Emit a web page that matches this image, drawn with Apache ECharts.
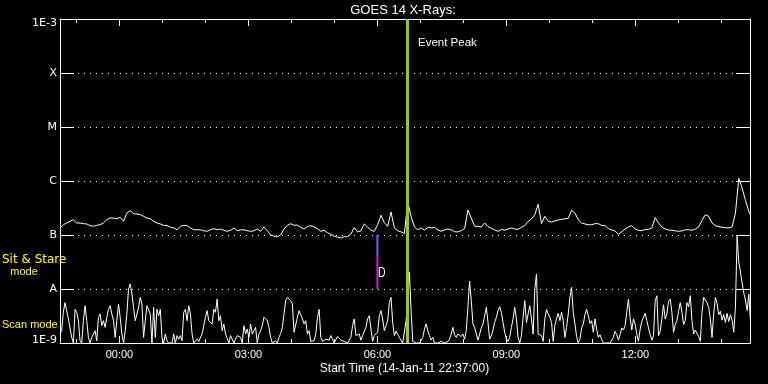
<!DOCTYPE html>
<html><head><meta charset="utf-8">
<script src="https://cdn.jsdelivr.net/npm/echarts@6/dist/echarts.min.js"></script>
<style>html,body{margin:0;padding:0;background:#000;}#c{width:768px;height:384px;}</style>
</head><body><div id="c"></div>
<script>
// time axis: minutes relative to 2011-01-15 00:00 ; start = 14-Jan-11 22:37:00
const startMin = -83;
const endMin = 880;
const longStepMin = 280 / 60;   // long channel sample spacing
const shortStepMin = 140 / 60;  // short channel sample spacing

// GOES 14 long channel (1-8 A), units of 1e-7 W/m^2
const longFlux = [
 1.35,1.55,1.67,1.79,1.92,1.67,1.67,1.62,1.60,1.49,
 1.45,1.51,1.55,1.67,1.92,2.06,2.06,2.0,2.13,1.8,
 2.55,2.82,2.48,2.45,2.38,2.22,2.06,2.0,1.79,1.67,
 1.60,1.51,1.49,1.39,1.35,1.25,1.45,1.51,1.49,1.35,
 1.25,1.25,1.25,1.20,1.17,1.25,1.31,1.25,1.29,1.22,
 1.17,1.22,1.35,1.20,1.24,1.25,1.20,1.17,1.20,1.29,
 1.17,1.41,1.20,1.01,0.95,0.92,1.01,1.29,1.51,1.62,
 1.51,1.53,1.39,1.29,1.43,1.49,1.41,1.31,1.17,1.22,
 1.10,1.03,0.95,0.91,0.88,0.93,0.93,1.04,1.37,1.14,
 1.20,1.60,1.41,1.22,1.17,1.55,2.32,1.67,1.45,2.67,
 1.35,1.20,1.14,1.06,4.1,2.2,1.41,1.25,1.35,1.22,
 1.39,1.35,1.39,1.24,1.17,1.24,1.29,1.24,1.15,1.14,
 1.20,1.31,2.9,2.06,1.45,1.45,1.41,1.67,1.43,1.33,
 1.24,1.17,1.27,1.22,1.29,1.35,1.29,1.27,1.39,1.49,
 1.79,1.98,2.38,3.7,1.62,2.22,1.79,1.74,1.82,1.90,
 1.95,2.0,2.03,2.87,2.55,1.92,1.67,1.60,1.55,1.55,
 1.62,1.62,1.51,1.49,1.31,1.24,1.19,1.03,1.14,1.29,
 1.41,1.49,1.29,1.22,1.20,1.27,1.27,1.35,2.1,1.67,
 1.41,1.29,1.24,1.22,1.19,1.17,1.19,1.25,1.25,1.22,
 1.29,1.41,1.87,2.38,2.22,1.67,1.49,1.43,1.39,1.37,
 1.35,1.41,2.55,11.2,7.4,4.39,2.74,2.0
];

// GOES 14 short channel (0.5-4 A), units of 1e-9 W/m^2
const shortFlux = [
 1.47,1.69,3.7,5.6,3.97,2.8,2.59,1.27,1.0,4.2,
 3.7,2.59,1.1,1.0,2.59,4.9,2.59,1.27,1.0,1.27,
 1.47,1.69,1.1,2.99,3.45,2.1,2.59,1.95,2.99,4.2,
 4.9,3.45,2.59,1.27,2.59,5.28,2.99,1.47,1.0,1.69,
 3.45,10.0,12.4,8.08,4.58,2.59,2.8,4.58,7.0,5.28,
 1.27,2.59,4.9,4.58,3.45,1.0,4.58,1.27,4.2,3.2,
 4.2,1.27,1.0,1.47,1.1,1.0,1.0,1.0,1.47,1.0,
 1.37,1.18,1.37,1.1,3.7,4.2,2.59,4.9,3.45,1.47,
 1.0,1.07,1.18,1.07,1.0,1.47,1.58,2.99,3.97,2.59,
 2.8,2.25,4.2,3.7,6.5,2.59,3.2,1.69,2.25,1.47,
 1.58,1.0,1.37,1.47,1.0,1.18,1.37,1.47,1.27,1.0,
 2.1,1.47,1.8,1.27,2.25,1.47,1.37,1.95,1.0,1.47,
 1.69,2.1,2.99,3.2,2.59,1.95,1.27,1.0,1.07,1.1,
 1.0,1.27,1.5,1.95,3.45,6.08,7.0,7.5,6.08,5.28,
 1.58,1.69,2.99,3.97,3.7,2.8,2.25,2.59,1.47,1.69,
 1.07,1.13,1.1,1.47,2.99,4.2,1.27,1.07,1.13,1.18,
 1.24,1.13,1.37,1.18,1.0,1.07,1.32,1.27,1.13,1.05,
 1.07,1.13,1.0,1.07,1.27,2.1,2.8,1.37,1.37,1.47,
 1.13,1.37,1.37,1.95,2.8,3.2,1.8,1.07,1.37,1.27,
 1.58,3.2,3.97,2.8,1.69,2.1,2.59,5.6,7.0,2.4,
 1.37,1.65,1.65,1.27,1.13,1.0,1.0,2.59,6.08,20.4,
 3.97,1.07,1.0,1.0,1.0,1.0,1.07,1.27,1.8,2.25,
 1.69,1.37,1.13,1.27,1.0,1.0,1.0,1.0,1.07,1.0,
 1.0,1.07,1.07,1.18,1.47,1.95,1.42,1.27,1.47,1.58,
 1.32,1.47,1.18,1.69,4.58,14,6.08,2.25,1.95,1.8,
 1.13,1.47,1.9,2.25,3.2,4.58,2.4,1.18,1.37,1.74,
 2.4,2.99,3.97,4.7,3.7,2.4,1.58,1.18,1.07,1.27,
 1.95,2.8,4.58,2.8,1.27,1.0,1.37,2.99,6.08,2.4,
 3.45,4.9,2.8,1.47,10,19,1.47,1.47,1.37,1.07,
 2.8,4.2,3.45,2.99,2.4,1.07,2.1,2.8,3.55,2.59,
 3.7,2.59,1.27,1.95,3.45,7.0,10.7,3.7,2.25,1.32,
 1.0,1.18,1.9,2.25,3.35,4.2,3.2,2.3,2.59,1.58,
 2.8,1.8,1.27,1.42,1.18,1.0,1.0,1.0,1.0,1.0,
 1.07,1.27,1.65,1.42,1.13,1.42,1.9,1.74,2.1,3.7,
 6.5,2.99,1.74,2.8,2.25,1.47,1.07,1.8,2.5,2.4,
 3.55,2.59,1.9,1.42,1.13,1.37,6.08,7.5,1.37,1.65,
 2.8,5.1,2.8,3.45,5.9,6.5,3.7,1.58,2.2,2.59,
 3.85,5.6,3.7,2.2,2.59,5.6,4.7,7.5,2.59,1.47,
 1.74,1.74,1.32,1.07,3.7,7.0,7.5,5.6,4.58,2.8,
 1.27,3.45,7.0,5.4,3.35,3.85,2.65,3.35,2.4,3.55,
 2.5,3.35,2.65,1.58,4.58,95,31.6,20.6,12.9,8.4,
 6.25,4,8,2.5
];

const yTickNames = { '-3': '1E-3', '-4': 'X', '-5': 'M', '-6': 'C', '-7': 'B', '-8': 'A', '-9': '1E-9' };
const hourTicks = [-60,0,60,120,180,240,300,360,420,480,540,600,660,720,780,840];
const labelTicks = [0,180,360,540,720];
const eventPeakMin = 402;             // 06:42
const sitStareMin = 360;              // 06:00
const sitStareBlue = [1e-7, 4.1e-8];
const sitStareMagenta = [4.1e-8, 1e-8];

const longData = longFlux.map((v, k) => [startMin + k * longStepMin, v * 1e-7]);
const shortData = shortFlux.map((v, j) => [startMin + j * shortStepMin, v * 1e-9]);

function fmtTime(m) {
  const h = Math.floor(m / 60), mm = Math.round(m - h * 60);
  return String(h).padStart(2, '0') + ':' + String(mm).padStart(2, '0');
}
function fmtY(v) {
  const e = Math.round(Math.log10(v));
  const name = yTickNames[String(e)] || '';
  if (e === -3) return '{top|' + name + '}';
  if (e === -9) return '{bot|' + name + '}';
  return name;
}

const W = '#ffffff';
const baseX = {
  type: 'value', min: startMin, max: endMin, gridIndex: 0,
  splitLine: { show: false },
  axisLine: { show: true, onZero: false, lineStyle: { color: W, width: 1 } },
  axisLabel: { show: false }
};
const baseY = {
  type: 'log', logBase: 10, min: 1e-9, max: 1e-3,
  axisLine: { show: true, onZero: false, lineStyle: { color: W, width: 1 } },
  axisTick: { show: true, inside: true, length: 14, lineStyle: { color: W, width: 1 } },
  minorTick: { show: false }, minorSplitLine: { show: false }
};

const chart = echarts.init(document.getElementById('c'), null, { renderer: 'canvas' });
chart.setOption({
  backgroundColor: '#000000',
  animation: false,
  grid: { left: 60, right: 18, top: 19, bottom: 41, containLabel: false },
  xAxis: [
    Object.assign({}, baseX, {
      position: 'bottom',
      axisTick: { show: true, inside: true, length: 4, customValues: hourTicks, lineStyle: { color: W } },
      axisLabel: { show: true, customValues: labelTicks, formatter: fmtTime, color: W,
        fontFamily: 'Liberation Sans', fontSize: 11, margin: 6 }
    }),
    Object.assign({}, baseX, {
      position: 'bottom', axisLine: { show: false, onZero: false },
      axisTick: { show: true, inside: true, length: 7, customValues: labelTicks, lineStyle: { color: W } }
    }),
    Object.assign({}, baseX, {
      position: 'top',
      axisTick: { show: true, inside: true, length: 4, customValues: hourTicks, lineStyle: { color: W } }
    }),
    Object.assign({}, baseX, {
      position: 'top', axisLine: { show: false, onZero: false },
      axisTick: { show: true, inside: true, length: 7, customValues: labelTicks, lineStyle: { color: W } }
    })
  ],
  yAxis: [
    Object.assign({}, baseY, {
      position: 'left',
      splitLine: { show: true, lineStyle: { color: W, width: 1, type: [1, 5] } },
      axisLabel: { show: true, color: W, fontFamily: 'DejaVu Sans', fontSize: 11, margin: 3,
        formatter: fmtY,
        rich: {
          top: { color: W, fontFamily: 'DejaVu Sans', fontSize: 11, padding: [9, 0, 0, 0] },
          bot: { color: W, fontFamily: 'DejaVu Sans', fontSize: 11, padding: [0, 0, 5, 0] }
        } }
    }),
    Object.assign({}, baseY, {
      position: 'right', splitLine: { show: false }, axisLabel: { show: false }
    })
  ],
  series: [
    { type: 'line', name: 'long', data: longData, xAxisIndex: 0, yAxisIndex: 0,
      symbol: 'none', clip: true, silent: true,
      lineStyle: { color: W, width: 1 } },
    { type: 'line', name: 'short', data: shortData, xAxisIndex: 0, yAxisIndex: 0,
      symbol: 'none', clip: true, silent: true,
      lineStyle: { color: W, width: 1 },
      markLine: { silent: true, symbol: ['none', 'none'], label: { show: false },
        lineStyle: { color: '#9acd00', width: 3, type: 'solid' },
        data: [{ xAxis: eventPeakMin }] } },
    { type: 'line', data: [[sitStareMin, sitStareBlue[0]], [sitStareMin, sitStareBlue[1]]],
      symbol: 'none', silent: true, lineStyle: { color: '#6464ff', width: 2 } },
    { type: 'line', data: [[sitStareMin, sitStareMagenta[0]], [sitStareMin, sitStareMagenta[1]]],
      symbol: 'none', silent: true, lineStyle: { color: '#d020d0', width: 2 } }
  ],
  graphic: [
    { type: 'text', x: 403, y: 10.5, silent: true,
      style: { text: 'GOES 14 X-Rays:', fill: W, font: '13px "Liberation Sans"', textAlign: 'center', textVerticalAlign: 'middle' } },
    { type: 'text', x: 418, y: 43, silent: true,
      style: { text: 'Event Peak', fill: W, font: '11.5px "Liberation Sans"', textAlign: 'left', textVerticalAlign: 'middle' } },
    { type: 'text', x: 2, y: 259.5, silent: true,
      style: { text: 'Sit & Stare', fill: '#ffff00', font: '12px "DejaVu Sans"', textAlign: 'left', textVerticalAlign: 'middle' } },
    { type: 'text', x: 24, y: 271.5, silent: true,
      style: { text: 'mode', fill: '#ffff00', font: '11px "Liberation Sans"', textAlign: 'center', textVerticalAlign: 'middle' } },
    { type: 'text', x: 2, y: 325, silent: true,
      style: { text: 'Scan mode', fill: '#ffff00', font: '11px "Liberation Sans"', textAlign: 'left', textVerticalAlign: 'middle' } },
    { type: 'text', x: 404.5, y: 368.5, silent: true,
      style: { text: 'Start Time (14-Jan-11 22:37:00)', fill: W, font: '12px "Liberation Sans"', textAlign: 'center', textVerticalAlign: 'middle' } },
    { type: 'text', x: 378, y: 272.5, scaleX: 0.7, silent: true,
      style: { text: 'D', fill: W, font: '15px "Liberation Sans"', textAlign: 'left', textVerticalAlign: 'middle' } }
  ]
});
</script>
</body></html>
